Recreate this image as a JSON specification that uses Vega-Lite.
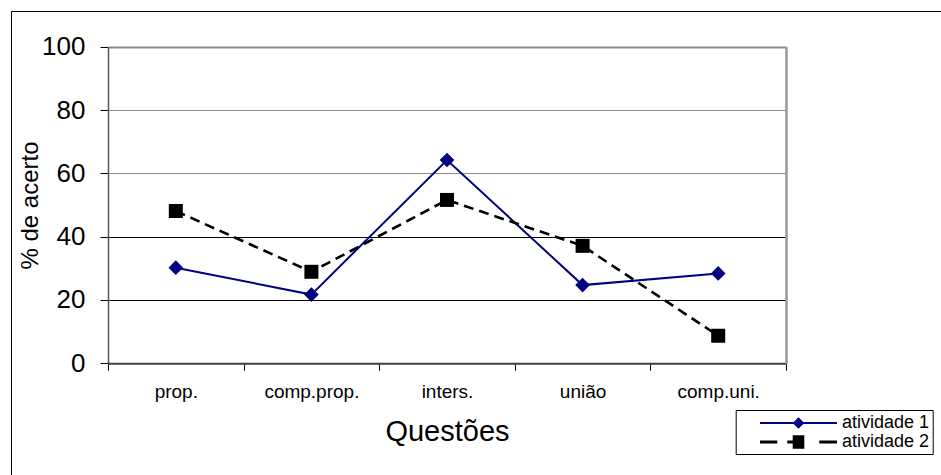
{
  "$schema": "https://vega.github.io/schema/vega-lite/v6.json",
  "autosize": {"type": "none"},
  "width": 940,
  "height": 470,
  "padding": {"left": 11, "top": 11, "right": -10, "bottom": -6},
  "background": "white",
  "config": {
    "font": "Liberation Sans",
    "view": {"stroke": "#000000", "strokeWidth": 1},
    "legend": {"strokeColor": "#000000", "strokeWidth": 1}
  },
  "data": {
    "values": [
      {"questao": "prop.", "atividade": "atividade 1", "valor": 30.2},
      {"questao": "comp.prop.", "atividade": "atividade 1", "valor": 21.7},
      {"questao": "inters.", "atividade": "atividade 1", "valor": 64.2},
      {"questao": "união", "atividade": "atividade 1", "valor": 24.7},
      {"questao": "comp.uni.", "atividade": "atividade 1", "valor": 28.4},
      {"questao": "prop.", "atividade": "atividade 2", "valor": 48.1},
      {"questao": "comp.prop.", "atividade": "atividade 2", "valor": 28.9},
      {"questao": "inters.", "atividade": "atividade 2", "valor": 51.6},
      {"questao": "união", "atividade": "atividade 2", "valor": 37.1},
      {"questao": "comp.uni.", "atividade": "atividade 2", "valor": 8.7}
    ]
  },
  "resolve": {"axis": {"y": "independent"}},
  "encoding": {
    "x": {
      "field": "questao",
      "type": "nominal",
      "sort": ["prop.", "comp.prop.", "inters.", "união", "comp.uni."],
      "scale": {
        "type": "band",
        "domain": ["prop.", "comp.prop.", "inters.", "união", "comp.uni."],
        "range": [97, 775],
        "paddingInner": 0,
        "paddingOuter": 0
      },
      "axis": {
        "title": "Questões",
        "orient": "bottom",
        "offset": -117.7,
        "labelAngle": 0,
        "labelFontSize": 19,
        "labelColor": "#000000",
        "labelPadding": 12,
        "tickBand": "extent",
        "tickSize": 7,
        "tickColor": "#000000",
        "domainColor": "#404040",
        "domainWidth": 2,
        "grid": false,
        "titleFontSize": 29,
        "titleFontWeight": "normal",
        "titleColor": "#000000",
        "titlePadding": 16
      }
    },
    "color": {
      "field": "atividade",
      "type": "nominal",
      "scale": {"domain": ["atividade 1", "atividade 2"], "range": ["#000080", "#000000"]},
      "legend": {
        "title": null,
        "orient": "none",
        "legendX": 724.7,
        "legendY": 399,
        "padding": 3,
        "strokeColor": "#000000",
        "fillColor": "#ffffff",
        "labelFontSize": 18,
        "labelColor": "#000000",
        "labelOffset": 83.3,
        "symbolSize": 400,
        "symbolStrokeWidth": 0,
        "symbolOpacity": 1,
        "rowPadding": 0
      }
    }
  },
  "layer": [
    {
      "transform": [{"filter": "datum.atividade === 'atividade 1'"}],
      "mark": {"type": "line", "strokeWidth": 2},
      "encoding": {
        "y": {
          "field": "valor",
          "type": "quantitative",
          "scale": {"domain": [0, 100], "range": [352.3, 35.7], "nice": false},
          "axis": {
            "title": "% de acerto",
            "orient": "left",
            "offset": -97,
            "values": [0, 20, 40, 60, 80, 100],
            "labelFontSize": 26,
            "labelColor": "#000000",
            "labelPadding": 15,
            "tickSize": 8,
            "tickColor": "#000000",
            "domainColor": "#555555",
            "domainWidth": 1.5,
            "grid": true,
            "gridColor": {"condition": {"test": "datum.value >= 60", "value": "#8c8c8c"}, "value": "#000000"},
            "gridWidth": {"condition": {"test": "datum.value == 100", "value": 2}, "value": 1},
            "titleFontSize": 24,
            "titleFontWeight": "normal",
            "titleColor": "#000000",
            "titlePadding": -1
          }
        }
      }
    },
    {
      "transform": [{"filter": "datum.atividade === 'atividade 2'"}],
      "mark": {"type": "line", "strokeWidth": 2.6, "strokeDash": [10, 6]},
      "encoding": {
        "y": {"field": "valor", "type": "quantitative", "scale": {"domain": [0, 100], "range": [352.3, 35.7], "nice": false}, "axis": null}
      }
    },
    {
      "transform": [{"filter": "datum.atividade === 'atividade 1'"}],
      "mark": {"type": "point", "shape": "diamond", "size": 215, "filled": true, "opacity": 1},
      "encoding": {
        "y": {"field": "valor", "type": "quantitative", "scale": {"domain": [0, 100], "range": [352.3, 35.7], "nice": false}, "axis": null}
      }
    },
    {
      "transform": [{"filter": "datum.atividade === 'atividade 2'"}],
      "mark": {"type": "point", "shape": "square", "size": 196, "filled": true, "opacity": 1},
      "encoding": {
        "y": {"field": "valor", "type": "quantitative", "scale": {"domain": [0, 100], "range": [352.3, 35.7], "nice": false}, "axis": null}
      }
    },
    {
      "transform": [{"filter": "false"}],
      "mark": {"type": "point", "filled": true, "opacity": 1},
      "encoding": {
        "y": {
          "field": "valor",
          "type": "quantitative",
          "scale": {"domain": [0, 100], "range": [352.3, 35.7], "nice": false},
          "axis": {
            "orient": "right",
            "offset": -165,
            "title": null,
            "labels": false,
            "ticks": false,
            "grid": false,
            "domainColor": "#999999",
            "domainWidth": 2.5
          }
        },
        "shape": {
          "field": "atividade",
          "type": "nominal",
          "scale": {
            "domain": ["atividade 1", "atividade 2"],
            "range": [
              "M1.13,-0.1H8.83V0.1H1.13Z M4.4,0L4.98,-0.58L5.56,0L4.98,0.58Z",
              "M1.13,-0.15H2.86V0.15H1.13Z M3.86,-0.15H4.98V0.15H3.86Z M7.06,-0.15H8.83V0.15H7.06Z M4.4,-0.67H5.56V0.67H4.4Z"
            ]
          }
        }
      }
    }
  ]
}
